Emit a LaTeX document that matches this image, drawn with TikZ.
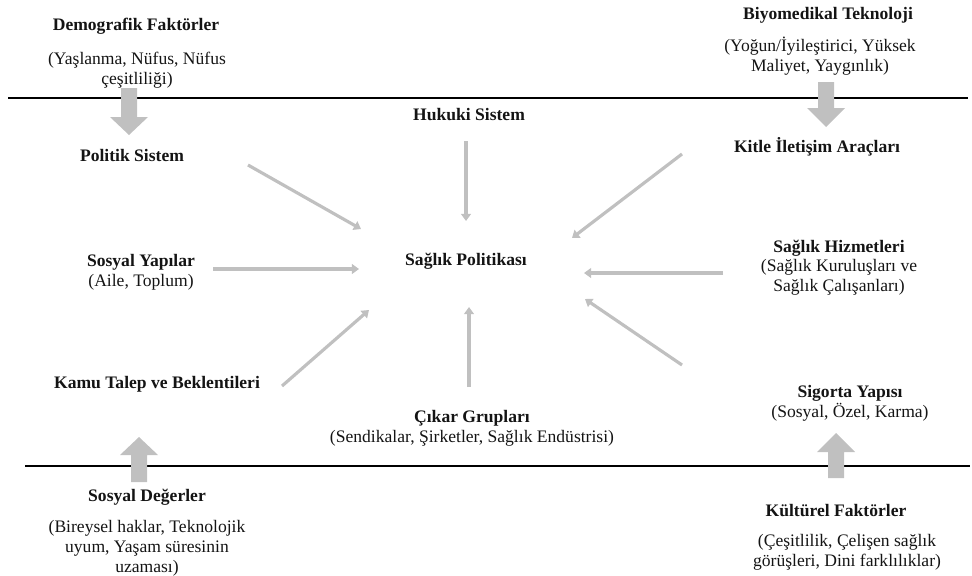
\documentclass[tikz,border=0pt]{standalone}
\usepackage{fontspec}
\setmainfont{Liberation Serif}
\usetikzlibrary{arrows.meta}
\definecolor{ink}{HTML}{141414}
\definecolor{haze}{HTML}{C0C0C0}
\tikzset{
  head/.style={font=\fontsize{10}{11.5}\selectfont\bfseries,text=ink,inner sep=0pt},
  note/.style={font=\fontsize{10}{11.5}\selectfont,text=ink,align=center,inner sep=0pt},
  both/.style={font=\fontsize{10}{11.5}\selectfont,text=ink,align=center,inner sep=0pt},
  pull/.style={->,line width=1.8pt,draw=haze},
  band/.style={line width=0.8pt,draw=black}
}

\begin{document}
\begin{tikzpicture}[x=0.02cm,y=-0.02cm,>={Triangle[length=4pt,width=5.5pt]}]
  \useasboundingbox (0,0) rectangle (972,575);

  % Outer factors above the band
  \node[head] (demo) at (136,26) {Demografik Faktörler};
  \node[note] (demosub) at (137,70) {(Yaşlanma, Nüfus, Nüfus\\çeşitliliği)};
  \node[head] (biyo) at (828,15) {Biyomedikal Teknoloji};
  \node[note] (biyosub) at (820,56) {(Yoğun/İyileştirici, Yüksek\\Maliyet, Yaygınlık)};

  \draw[band] (8,98) -- (968,98);
  \draw[band] (25,466) -- (970,466);

  % Wide grey block arrows crossing the band
  \fill[haze] (121,88) -- (137,88) -- (137,117) -- (148,117) -- (129,135)
    -- (110,117) -- (121,117) -- cycle;
  \fill[haze] (818,82) -- (834,82) -- (834,108) -- (845,108) -- (826,127)
    -- (807,108) -- (818,108) -- cycle;
  \fill[haze] (131,482) -- (147,482) -- (147,455) -- (158,455) -- (139,437)
    -- (120,455) -- (131,455) -- cycle;
  \fill[haze] (828,478) -- (844,478) -- (844,452) -- (855,452) -- (836,433)
    -- (817,452) -- (828,452) -- cycle;

  % Inner ring
  \node[head] (hp) at (466,261) {Sağlık Politikası};
  \node[head] (pol) at (132,155) {Politik Sistem};
  \node[head] (huk) at (469,115) {Hukuki Sistem};
  \node[head] (kitle) at (817,147) {Kitle İletişim Araçları};
  \node[both] (sy) at (141,272) {\textbf{Sosyal Yapılar}\\(Aile, Toplum)};
  \node[both] (shz) at (839,268)
    {\textbf{Sağlık Hizmetleri}\\[-1pt](Sağlık Kuruluşları ve\\Sağlık Çalışanları)};
  \node[head] (kamu) at (157,384) {Kamu Talep ve Beklentileri};
  \node[both] (sig) at (850,403) {\textbf{Sigorta Yapısı}\\(Sosyal, Özel, Karma)};
  \node[both] (cikar) at (472,428)
    {\textbf{Çıkar Grupları}\\(Sendikalar, Şirketler, Sağlık Endüstrisi)};

  % Outer factors below the band
  \node[head] (sd) at (147,497) {Sosyal Değerler};
  \node[note] (sdsub) at (147,548)
    {(Bireysel haklar, Teknolojik\\uyum, Yaşam süresinin\\uzaması)};
  \node[head] (kf) at (836,510) {Kültürel Faktörler};
  \node[note] (kfsub) at (847,552) {(Çeşitlilik, Çelişen sağlık\\görüşleri, Dini farklılıklar)};

  % Free ends of the thin arrows
  \coordinate (pol-o) at (248,165);  \coordinate (pol-i) at (361,229);
  \coordinate (huk-o) at (466,141);  \coordinate (huk-i) at (466,221);
  \coordinate (kit-o) at (682,154);  \coordinate (kit-i) at (572,238);
  \coordinate (sy-o) at (213,269);   \coordinate (sy-i) at (359,269);
  \coordinate (shz-o) at (723,273);  \coordinate (shz-i) at (584,273);
  \coordinate (kamu-o) at (282,386); \coordinate (kamu-i) at (369,310);
  \coordinate (cik-o) at (469,387);  \coordinate (cik-i) at (469,307);
  \coordinate (sig-o) at (682,365);  \coordinate (sig-i) at (585,299);

  \foreach \a in {pol,huk,kit,sy,shz,kamu,cik,sig}{
    \draw[pull] (\a-o) -- (\a-i);
  }
\end{tikzpicture}
\end{document}
